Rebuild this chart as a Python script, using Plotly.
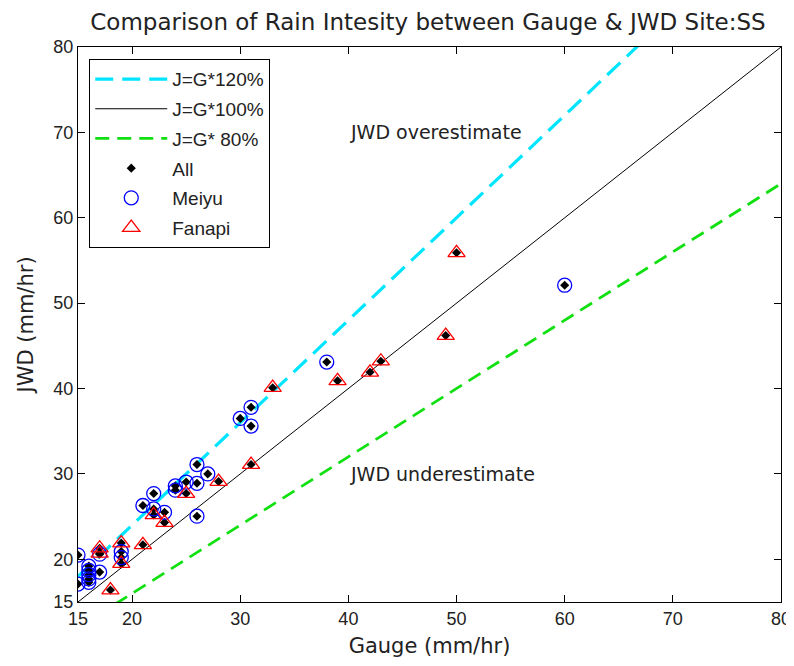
import plotly.graph_objects as go

# Reference lines
line_x = [15, 80]
ratios = [1.2, 1.0, 0.8]
line_names = ["J=G*120%", "J=G*100%", "J=G* 80%"]

# Meiyu event (gauge, JWD)
meiyu_g = [15, 15, 16, 16, 16, 16, 16, 17, 17, 19, 19, 21, 22, 22, 23, 24, 24, 25, 26, 26, 27, 26, 30, 31, 31, 38, 60]
meiyu_j = [20.5, 17.1, 19.2, 18.7, 18.2, 17.7, 17.3, 18.5, 20.6, 20.9, 20.2, 26.3, 27.7, 25.9, 25.5, 28.6, 28.1, 29.05, 31.1, 28.9, 30.0, 25.05, 36.5, 37.8, 35.6, 43.1, 52.1]

# Fanapi event (gauge, JWD)
fanapi_g = [17, 17, 18, 19, 19, 21, 22, 23, 25, 28, 31, 33, 39, 42, 43, 49, 50]
fanapi_j = [21.3, 20.7, 16.4, 21.9, 19.5, 21.7, 25.2, 24.3, 27.7, 29.1, 31.1, 40.1, 40.9, 41.9, 43.2, 46.2, 55.9]

all_g = meiyu_g + fanapi_g
all_j = meiyu_j + fanapi_j

ticks = [15, 20, 30, 40, 50, 60, 70, 80]

FONT = "Liberation Sans"
WFONT = "DejaVu Sans"
TXT = "#222222"
fig = go.Figure()

styles = [dict(color="#00e5ff", width=3.2, dash="18px,9px"),
          dict(color="black", width=1, dash="solid"),
          dict(color="#10e010", width=2.8, dash="14px,8px")]
for i, (r, name, st) in enumerate(zip(ratios, line_names, styles)):
    fig.add_trace(go.Scatter(x=line_x, y=[v * r for v in line_x], mode="lines",
                             name=name, line=st, legendgroup=f"g{i}"))

fig.add_trace(go.Scatter(x=all_g, y=all_j, mode="markers", name="All",
                         marker=dict(symbol="diamond", size=7, color="black"),
                         legendgroup="g3"))
fig.add_trace(go.Scatter(x=meiyu_g, y=meiyu_j, mode="markers", name="Meiyu",
                         marker=dict(symbol="circle-open", size=14, color="blue",
                                     line=dict(width=1.3, color="blue")),
                         legendgroup="g4"))
fig.add_trace(go.Scatter(x=fanapi_g, y=fanapi_j, mode="markers", name="Fanapi",
                         marker=dict(symbol="triangle-up-open", size=15, color="red",
                                     line=dict(width=1.3, color="red")),
                         legendgroup="g5"))

axis_common = dict(range=[15, 80], tickvals=ticks, ticks="inside", ticklen=7,
                   tickcolor="black", showline=True, linecolor="black", linewidth=1,
                   mirror="allticks", showgrid=False, zeroline=False, automargin=False,
                   tickfont=dict(family=FONT, size=18, color=TXT))

fig.update_xaxes(**axis_common, title=dict(text="Gauge (mm/hr)", font=dict(family=WFONT, size=21, color=TXT), standoff=10))
fig.update_yaxes(**axis_common, title=dict(text="JWD (mm/hr)", font=dict(family=WFONT, size=21, color=TXT), standoff=14))

fig.add_annotation(x=40, y=70, text="JWD overestimate", showarrow=False, xanchor="left",
                   yanchor="middle", font=dict(family=WFONT, size=19, color=TXT))
fig.add_annotation(x=40, y=30, text="JWD underestimate", showarrow=False, xanchor="left",
                   yanchor="middle", font=dict(family=WFONT, size=19, color=TXT))

# page body adds an 8px offset; figure is sized to fill the rest of the window
W, H = 786, 658
fig.update_layout(
    width=W, height=H,
    margin=dict(l=70, r=13, t=39, b=64, autoexpand=False),
    paper_bgcolor="white", plot_bgcolor="white",
    title=dict(text="Comparison of Rain Intesity between Gauge & JWD Site:SS",
               x=420 / W, xanchor="center", y=1 - 14 / H, yanchor="middle",
               font=dict(family=WFONT, size=23, color=TXT)),
    legend=dict(x=0.016, y=0.978, xanchor="left", yanchor="top",
                bgcolor="white", bordercolor="black", borderwidth=1,
                font=dict(family=FONT, size=19, color=TXT),
                traceorder="grouped", tracegroupgap=2, itemwidth=72),
    showlegend=True,
)

fig.write_html("out.html")
